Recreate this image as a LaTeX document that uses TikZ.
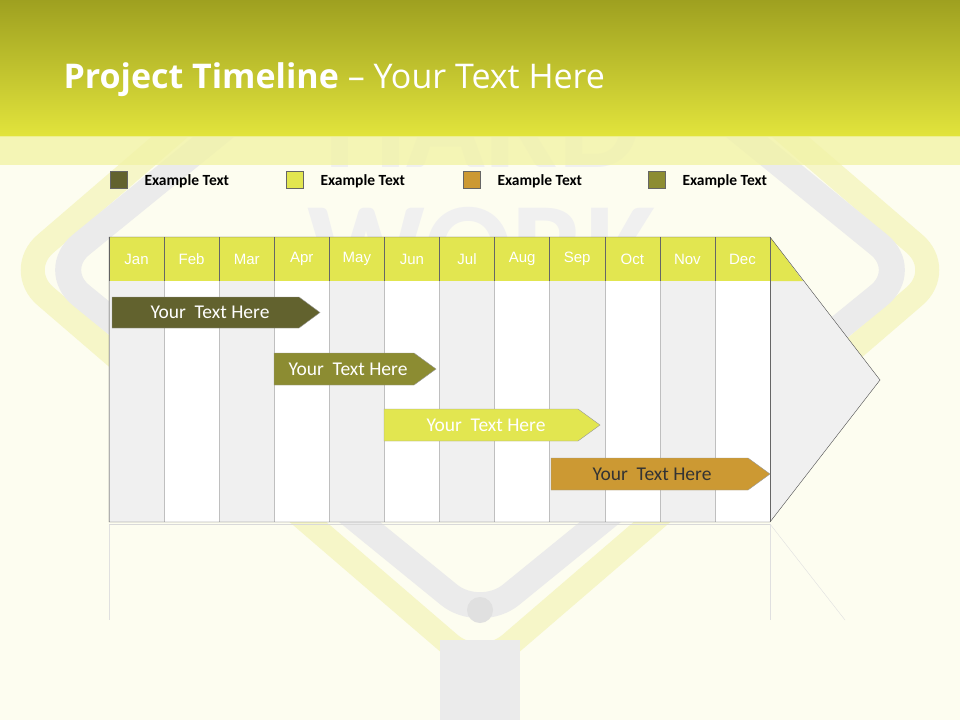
\documentclass[tikz,border=0pt]{standalone}
\usepackage{fontspec}
\setmainfont{Carlito}
\newfontfamily\arialf{Liberation Sans}
\newfontfamily\titlef{Open Sans}
\begin{document}
\begin{tikzpicture}[x=1pt,y=-1pt,
  month/.style={font=\arialf\fontsize{15}{17}\selectfont,text=white,anchor=center},
  leg/.style={draw=black!60,minimum size=17pt,inner sep=0pt},
  legt/.style={font=\bfseries\fontsize{15.5}{17}\selectfont,anchor=west},
  bart/.style={font=\fontsize{19.5}{21}\selectfont,anchor=center}]
\definecolor{bg}{HTML}{FDFDF0}
\definecolor{hdtop}{HTML}{9EA020}
\definecolor{hdbot}{HTML}{E2E43C}
\definecolor{cA}{HTML}{62622E}
\definecolor{cB}{HTML}{8C8C32}
\definecolor{cC}{HTML}{E2E650}
\definecolor{cD}{HTML}{CC9933}
\definecolor{mgr}{HTML}{F0F0F0}
\definecolor{ring}{HTML}{F6F6C8}
\useasboundingbox (0,0) rectangle (960,720);
\fill[bg] (0,0) rectangle (960,720);
% watermark sign
\draw[line width=24pt,color=ring,rounded corners=40pt] (480,-130) -- (945,270) -- (480,670) -- (15,270) -- cycle;
\draw[line width=26pt,color=black!8,rounded corners=40pt] (480,-80) -- (910,270) -- (480,620) -- (50,270) -- cycle;
\fill[black!8] (440,640) rectangle (520,720);
\fill[black!12] (480,610) circle (13);
\node[font=\bfseries\fontsize{130}{130}\selectfont,text=black!6] (w1) at (482,125) {HARD};
\node[font=\bfseries\fontsize{130}{130}\selectfont,text=black!6] (w2) at (482,250) {WORK};
% header
\shade[top color=hdtop,bottom color=hdbot] (0,0) rectangle (960,136);
\fill[hdbot!45,opacity=0.8] (0,136) rectangle (960,165);
\node[anchor=west,text=white,font=\titlef\fontsize{34}{40}\selectfont] (title) at (60,80) {\textbf{Project Timeline} – Your Text Here};
% legend
\foreach \x/\c/\n in {110/cA/l1,286/cC/l2,463/cD/l3,648/cB/l4}{
  \node[leg,fill=\c,anchor=north west] (\n) at (\x,171) {};
  \node[legt] (\n t) at (\x+31,181) {Example Text};
}
% table
\fill[mgr] (770,237) -- (880,380) -- (770,522) -- cycle;
\fill[cC] (770,237) -- (803,281) -- (770,281) -- cycle;
\foreach \i/\m in {0/Jan,1/Feb,2/Mar,3/Apr,4/May,5/Jun,6/Jul,7/Aug,8/Sep,9/Oct,10/Nov,11/Dec}{
  \pgfmathsetmacro{\xa}{109+\i*55.083}
  \pgfmathsetmacro{\xb}{109+(\i+1)*55.083}
  \pgfmathparse{mod(\i,2)==0?"mgr":"white"}
  \fill[\pgfmathresult] (\xa,281) rectangle (\xb,522);
  \fill[cC] (\xa,237) rectangle (\xb,281);
  \draw[black!25] (\xa,281) -- (\xa,522);
  \draw[black!60] (\xa,237) -- (\xa,281);
  \node[month] (m\i) at ({(\xa+\xb)/2},259) {\m};
}
\draw[black!70] (109,237) -- (770,237) -- (880,380) -- (770,522) -- (109,522) -- cycle;
\draw[black!60] (770,237) -- (770,522);
% reflection
\draw[black!12] (109,524) -- (109,620);
\draw[black!12] (770,524) -- (770,620);
\draw[black!12] (770,524) -- (845,620);
\draw[black!15] (109,524) -- (770,524);
% bars
\tikzset{bar/.style={draw=black!40}}
\fill[cA,bar] (112,297) -- (299,297) -- (320,312.5) -- (299,328) -- (112,328) -- cycle;
\node[bart,text=white] (b1) at (210,312.5) {Your\ \ Text Here};
\fill[cB,bar] (274,353) -- (414,353) -- (436,369) -- (414,385) -- (274,385) -- cycle;
\node[bart,text=white] (b2) at (348,369) {Your\ \ Text Here};
\fill[cC,bar] (384,409) -- (578,409) -- (600,425) -- (578,441) -- (384,441) -- cycle;
\node[bart,text=white] (b3) at (486,425) {Your\ \ Text Here};
\fill[cD,bar] (551,458) -- (748,458) -- (770,474) -- (748,490) -- (551,490) -- cycle;
\node[bart,text=black!80] (b4) at (652,474) {Your\ \ Text Here};
\end{tikzpicture}
\end{document}
